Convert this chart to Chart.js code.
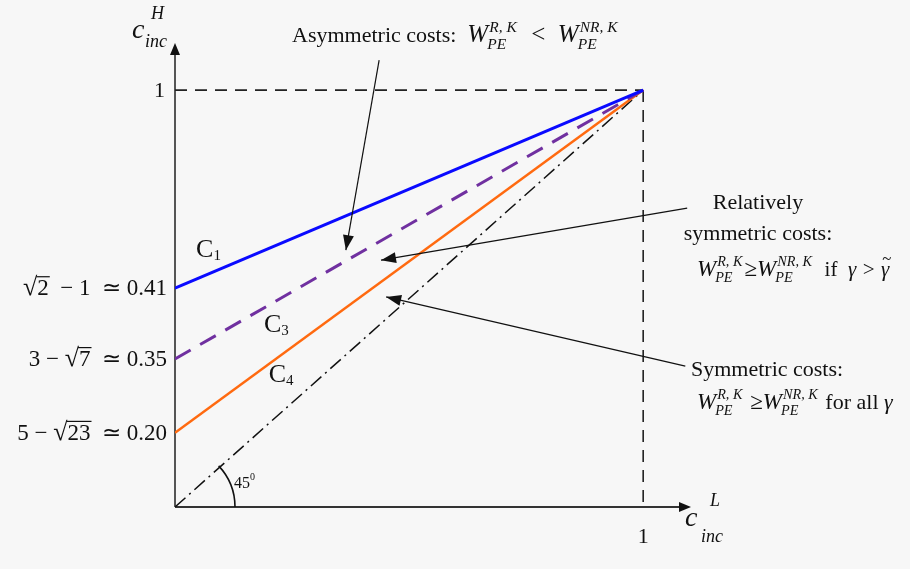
<!DOCTYPE html>
<html>
<head>
<meta charset="utf-8">
<script src="https://cdn.jsdelivr.net/npm/chart.js@4.4.1/dist/chart.umd.min.js"></script>
<style>
  html, body { margin: 0; padding: 0; background: #f7f7f7; }
  canvas { display: block; }
</style>
</head>
<body>
<canvas id="costChart" width="910" height="569"></canvas>
<script>
// Chart data (schematic)
const xEnds = [0, 1];
const c1Values = [0.525, 1];
const c3Values = [0.355, 1];
const c4Values = [0.178, 1];
const diagonalValues = [0, 1];
const curveLabels = ['C1', 'C3', 'C4'];
const yTickValues = [0.525, 0.355, 0.178];
const yTickLabels = [
  [{t: '\u221A', size: 26}, {t: '2', o: true}, {t: '  \u2212 1  \u2243 0.41'}],
  [{t: '3 \u2212 '}, {t: '\u221A', size: 26}, {t: '7', o: true}, {t: '  \u2243 0.35'}],
  [{t: '5 \u2212 '}, {t: '\u221A', size: 26}, {t: '23', o: true}, {t: '  \u2243 0.20'}]
];

const SERIF = '"Liberation Serif", "Times New Roman", serif';

function font(size, italic) {
  return (italic ? 'italic ' : '') + size + 'px ' + SERIF;
}

// draws a run of text pieces; pieces can be italic, overlined, tilded or carry a sup/sub stack
function drawRich(ctx, x, y, parts, size, align) {
  const widths = parts.map(p => {
    if (p.sup !== undefined || p.sub !== undefined) {
      ctx.font = font(size * 0.62, true);
      return Math.max(ctx.measureText(p.sup || '').width, ctx.measureText(p.sub || '').width) + 3;
    }
    ctx.font = font(p.size || size, p.i);
    return ctx.measureText(p.t).width;
  });
  const total = widths.reduce((a, b) => a + b, 0);
  let cx = align === 'right' ? x - total : align === 'center' ? x - total / 2 : x;
  ctx.textBaseline = 'alphabetic';
  ctx.textAlign = 'left';
  parts.forEach((p, k) => {
    if (p.sup !== undefined || p.sub !== undefined) {
      ctx.font = font(size * 0.62, true);
      if (p.sup) ctx.fillText(p.sup, cx + 1, y - size * 0.42);
      if (p.sub) ctx.fillText(p.sub, cx - 1, y + size * 0.28);
    } else {
      const s = p.size || size;
      ctx.font = font(s, p.i);
      ctx.fillText(p.t, cx, y + (p.dy || 0));
      if (p.o) {
        ctx.save();
        ctx.lineWidth = 1.2;
        ctx.beginPath();
        ctx.moveTo(cx - 1, y - size * 0.8);
        ctx.lineTo(cx + widths[k] + 1, y - size * 0.8);
        ctx.stroke();
        ctx.restore();
      }
      if (p.tilde) {
        ctx.font = font(s * 0.8, false);
        ctx.fillText('~', cx + widths[k] * 0.15, y - s * 0.55);
      }
    }
    cx += widths[k];
  });
}

function arrowHead(ctx, x0, y0, x1, y1, len, half) {
  const a = Math.atan2(y1 - y0, x1 - x0);
  ctx.beginPath();
  ctx.moveTo(x1, y1);
  ctx.lineTo(x1 - len * Math.cos(a) + half * Math.sin(a), y1 - len * Math.sin(a) - half * Math.cos(a));
  ctx.lineTo(x1 - len * Math.cos(a) - half * Math.sin(a), y1 - len * Math.sin(a) + half * Math.cos(a));
  ctx.closePath();
  ctx.fill();
}

// annotation arrows, in data units: [fromX, fromY, toX, toY]
const noteArrows = [
  [0.436, 1.072, 0.365, 0.616],
  [1.094, 0.717, 0.440, 0.592],
  [1.090, 0.338, 0.451, 0.504]
];

const W = (sup, sub) => [{t: 'W', i: true}, {sup: sup, sub: sub}];

const figurePlugin = {
  id: 'figure',
  beforeDatasetsDraw(chart) {
    const ctx = chart.ctx;
    const xs = chart.scales.x, ys = chart.scales.y;
    const ox = xs.getPixelForValue(0), oy = ys.getPixelForValue(0);
    ctx.save();
    ctx.fillStyle = '#111';
    // x axis
    ctx.strokeStyle = '#333';
    ctx.lineWidth = 2;
    ctx.beginPath();
    ctx.moveTo(ox, oy);
    ctx.lineTo(chart.chartArea.right - 8, oy);
    ctx.stroke();
    arrowHead(ctx, ox, oy, chart.chartArea.right + 1, oy, 12, 5);
    // y axis
    ctx.strokeStyle = '#555';
    ctx.beginPath();
    ctx.moveTo(ox, oy);
    ctx.lineTo(ox, chart.chartArea.top + 8);
    ctx.stroke();
    arrowHead(ctx, ox, oy, ox, chart.chartArea.top, 12, 5);
    // 45 degree arc
    ctx.strokeStyle = '#111';
    ctx.lineWidth = 1.6;
    ctx.beginPath();
    ctx.arc(ox, oy, 60, -Math.PI / 4 + 0.03, 0);
    ctx.stroke();
    ctx.restore();
  },
  afterDatasetsDraw(chart) {
    const ctx = chart.ctx;
    const xs = chart.scales.x, ys = chart.scales.y;
    const px = v => xs.getPixelForValue(v), py = v => ys.getPixelForValue(v);
    ctx.save();
    ctx.fillStyle = '#111';
    ctx.strokeStyle = '#111';

    // y ticks
    yTickValues.forEach((v, k) => drawRich(ctx, px(0) - 8, py(v) + 7, yTickLabels[k], 23, 'right'));
    drawRich(ctx, px(0) - 10, py(1) + 7, [{t: '1'}], 22, 'right');
    drawRich(ctx, px(1), py(0) + 36, [{t: '1'}], 22, 'center');

    // axis titles
    ctx.font = font(28, true);
    ctx.fillText('c', 132, 38);
    ctx.font = font(18, true);
    ctx.fillText('H', 151, 19);
    ctx.fillText('inc', 145, 47);
    ctx.font = font(28, true);
    ctx.fillText('c', 685, 526);
    ctx.font = font(18, true);
    ctx.fillText('L', 710, 506);
    ctx.fillText('inc', 701, 542);

    // 45 degree label
    drawRich(ctx, px(0) + 59, py(0) - 19, [{t: '45'}, {t: '0', size: 10, dy: -8}], 16, 'left');

    // curve labels
    const curvePos = [[0.045, 0.6], [0.19, 0.42], [0.2, 0.3]];
    curveLabels.forEach((c, k) => {
      drawRich(ctx, px(curvePos[k][0]), py(curvePos[k][1]), [{t: 'C', size: 26}, {t: c.slice(1), size: 15, dy: 3}], 26, 'left');
    });

    // annotation arrows
    ctx.lineWidth = 1.2;
    noteArrows.forEach(a => {
      const x0 = px(a[0]), y0 = py(a[1]), x1 = px(a[2]), y1 = py(a[3]);
      ctx.beginPath();
      ctx.moveTo(x0, y0);
      ctx.lineTo(x1, y1);
      ctx.stroke();
      arrowHead(ctx, x0, y0, x1, y1, 15, 5.5);
    });

    // annotation texts
    drawRich(ctx, 292, 42, [{t: 'Asymmetric costs:  ', size: 22}].concat(W('R, K', 'PE'), [{t: '  <  '}], W('NR, K', 'PE')), 25, 'left');
    drawRich(ctx, 758, 209, [{t: 'Relatively'}], 22, 'center');
    drawRich(ctx, 758, 240, [{t: 'symmetric costs:'}], 22, 'center');
    drawRich(ctx, 697, 276, W('R, K', 'PE').concat([{t: '\u2265'}], W('NR, K', 'PE'), [{t: '  if  ', size: 21}, {t: '\u03B3 > ', i: true, size: 21}, {t: '\u03B3', i: true, size: 21, tilde: true}]), 23, 'left');
    drawRich(ctx, 691, 376, [{t: 'Symmetric costs:'}], 22, 'left');
    drawRich(ctx, 697, 409, W('R, K', 'PE').concat([{t: ' \u2265'}], W('NR, K', 'PE'), [{t: ' for all ', size: 22}, {t: '\u03B3', i: true, size: 22}]), 23, 'left');

    ctx.restore();
  }
};

const pts = vals => xEnds.map((x, k) => ({x: x, y: vals[k]}));

const ctx = document.getElementById('costChart').getContext('2d');

let costChart = new Chart(ctx, {
  type: 'line',
  data: {
    datasets: [
      {label: 'C1', data: pts(c1Values), borderColor: '#0a0aff', borderWidth: 3},
      {label: 'C3', data: pts(c3Values), borderColor: '#7030a0', borderWidth: 3, borderDash: [18, 11]},
      {label: 'C4', data: pts(c4Values), borderColor: '#ff6a10', borderWidth: 2.5},
      {label: '45', data: pts(diagonalValues), borderColor: '#111', borderWidth: 1.5, borderDash: [14, 5, 2, 5]},
      {label: 'top', data: [{x: 0, y: 1}, {x: 1, y: 1}], borderColor: '#222', borderWidth: 1.6, borderDash: [12, 8]},
      {label: 'right', data: [{x: 1, y: 1}, {x: 1, y: 0}], borderColor: '#222', borderWidth: 1.6, borderDash: [12, 8]}
    ]
  },
  options: {
    responsive: false,
    animation: false,
    layout: {
      padding: {left: 175, right: 220, top: 43, bottom: 62}
    },
    elements: {
      point: {radius: 0},
      line: {tension: 0}
    },
    scales: {
      x: {type: 'linear', min: 0, max: 1.1, display: false},
      y: {type: 'linear', min: 0, max: 1.113, display: false}
    },
    plugins: {
      legend: {display: false},
      tooltip: {enabled: false}
    }
  },
  plugins: [figurePlugin]
});
</script>
</body>
</html>
